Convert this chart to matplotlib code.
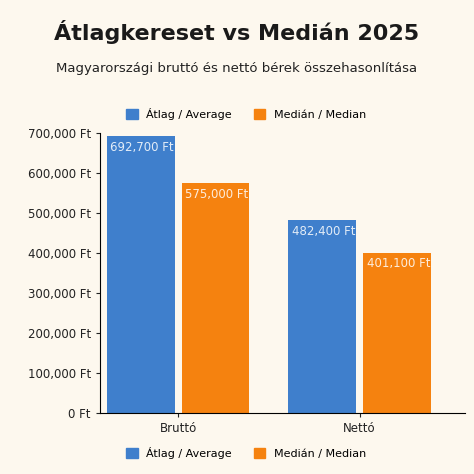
import matplotlib.pyplot as plt
import numpy as np
from matplotlib.ticker import FuncFormatter
from matplotlib.patches import Patch

# =====================================================
# DATA
# =====================================================
CATEGORIES = ["Bruttó", "Nettó"]
AVERAGE    = [692700, 482400]
MEDIAN     = [575000, 401100]
LABELS     = ["Átlag / Average", "Medián / Median"]

BLUE   = "#3f7fcc"
ORANGE = "#f5820f"
BG     = "#fdf8ee"

fig = plt.figure(figsize=(4.74, 4.74), dpi=100, facecolor=BG)
ax = fig.add_axes([0.211, 0.129, 0.77, 0.59], facecolor=BG)

x = np.arange(len(CATEGORIES))
w = 0.374
off = 0.206
b1 = ax.bar(x - off, AVERAGE, w, color=BLUE)
b2 = ax.bar(x + off, MEDIAN, w, color=ORANGE)

for bars, vals in ((b1, AVERAGE), (b2, MEDIAN)):
    for r, v in zip(bars, vals):
        ax.text(r.get_x() + 0.02, v - 12000, f"{v:,} Ft", color="white",
                alpha=0.85, fontsize=8.5, ha="left", va="top")

ax.set_xlim(-0.43, 1.58)
ax.set_ylim(0, 700000)
ax.set_yticks(np.arange(0, 700001, 100000))
ax.yaxis.set_major_formatter(FuncFormatter(lambda v, p: f"{int(v):,} Ft"))
ax.set_xticks(x)
ax.set_xticklabels(CATEGORIES)
ax.tick_params(labelsize=8.5, colors="#222222", length=3)
for s in ("top", "right"):
    ax.spines[s].set_visible(False)

handles = [Patch(color=BLUE, label=LABELS[0]), Patch(color=ORANGE, label=LABELS[1])]
for y in (0.76, 0.045):
    fig.legend(handles=handles, loc="center", bbox_to_anchor=(0.52, y), ncol=2,
               frameon=False, fontsize=8, handlelength=1.0, handleheight=1.0,
               columnspacing=2.0)

fig.text(0.5, 0.915, "Átlagkereset vs Medián 2025", ha="center", fontsize=16,
         fontweight="bold", color="#1a1a1a")
fig.text(0.5, 0.848, "Magyarországi bruttó és nettó bérek összehasonlítása",
         ha="center", fontsize=9.5, color="#222222")

fig.savefig("out.png", dpi=100, facecolor=BG)
